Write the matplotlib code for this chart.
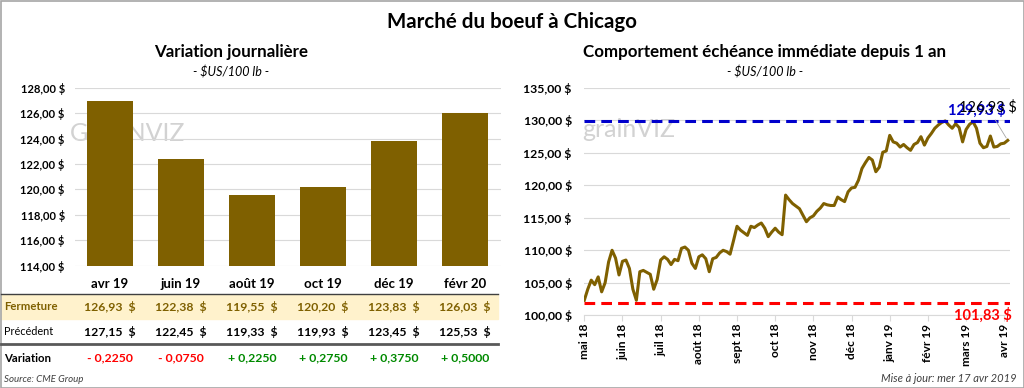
# -*- coding: utf-8 -*-
"""
Marché du boeuf à Chicago: variation journalière + échéance immédiate sur 1 an.
"""
import matplotlib
matplotlib.use('Agg')
import matplotlib.pyplot as plt
import matplotlib.transforms as mtransforms
from matplotlib.patches import Rectangle
from matplotlib.lines import Line2D

plt.rcParams['font.family'] = ['Lato', 'DejaVu Sans']

# left panel: contracts
contracts = ['avr 19', 'juin 19', 'août 19', 'oct 19', 'déc 19', 'févr 20']
fermeture = [126.93, 122.38, 119.55, 120.20, 123.83, 126.03]
precedent = [127.15, 122.45, 119.33, 119.93, 123.45, 125.53]
variation = [-0.2250, -0.0750, 0.2250, 0.2750, 0.3750, 0.5000]

# right panel: front month, one value every 2 trading days
nearby = [
    102.3, 104.0, 105.4, 104.7, 105.9, 103.6, 105.0, 108.2, 110.0, 108.8,
    106.2, 108.3, 108.5, 107.2, 104.0, 102.3, 106.7, 106.9, 106.6, 106.3,
    104.0, 105.5, 108.5, 109.0, 108.6, 107.8, 108.6, 108.4, 110.3, 110.5,
    110.0, 108.0, 107.2, 109.0, 109.3, 108.7, 106.7, 108.7, 108.9, 109.6,
    110.0, 109.8, 109.4, 111.5, 113.7, 113.1, 112.7, 112.3, 113.7, 113.5,
    113.9, 114.2, 113.4, 112.1, 112.8, 113.4, 112.8, 112.4, 118.5, 117.8,
    117.2, 116.8, 116.4, 115.4, 114.4, 115.0, 115.3, 116.0, 116.5, 117.2,
    117.0, 116.9, 116.9, 118.2, 117.8, 117.5, 119.0, 119.6, 119.7, 120.8,
    122.6, 123.5, 124.3, 123.9, 122.1, 122.8, 125.1, 125.3, 127.7, 126.7,
    126.5, 125.9, 126.3, 125.8, 125.4, 126.3, 126.6, 127.5, 126.2, 127.3,
    128.0, 128.8, 129.3, 129.7, 129.93, 129.3, 128.8, 129.5, 128.9, 126.7,
    128.6, 129.4, 129.8, 128.8, 126.5, 125.8, 126.0, 127.6, 125.9, 126.0,
    126.4, 126.5, 126.93,
]
month_labels = ['mai 18', 'juin 18', 'juil 18', 'août 18', 'sept 18', 'oct 18',
                'nov 18', 'déc 18', 'janv 19', 'févr 19', 'mars 19', 'avr 19']
label_step = 11
haut = 129.93
bas = 101.83

W, H = 1024, 388
GOLD = '#7F6000'
GRID = '#D9D9D9'
WMARK = '#D2D2D2'


def fx(px):
    return px / W


def fy(px):
    return 1 - px / H


def money(v):
    return f'{v:.2f}'.replace('.', ',') + ' $'


def money_table(v):
    return f'{v:.2f}'.replace('.', ',') + '  $'


def signed(v):
    s = '- ' if v < 0 else '+ '
    return s + f'{abs(v):.4f}'.replace('.', ',')


fig = plt.figure(figsize=(W / 100, H / 100), dpi=100)
fig.patch.set_facecolor('white')

fig.text(0.5, fy(22), 'Marché du boeuf à Chicago', ha='center', va='center',
         fontsize=14.8, fontweight='bold')

# ---------------- left panel
ax1 = fig.add_axes([fx(74.5), fy(265.7), fx(426), 178 / H])
x = list(range(len(contracts)))
ax1.bar(x, fermeture, width=0.66, color=GOLD, zorder=3)
ax1.set_ylim(114, 128)
ax1.set_xlim(-0.5, len(contracts) - 0.5)
ax1.set_yticks(range(114, 129, 2))
ax1.set_yticklabels([money(v) for v in range(114, 129, 2)],
                    fontsize=8, fontweight='bold')
ax1.set_xticks(x)
ax1.set_xticklabels(contracts, fontsize=9.5, fontweight='bold')
ax1.tick_params(axis='y', length=0, pad=7)
ax1.tick_params(axis='x', length=0, pad=9)
ax1.grid(axis='y', color=GRID, lw=0.8, zorder=0)
for s in ax1.spines.values():
    s.set_visible(False)
ax1.text(-0.01, 0.70, 'GRAINVIZ', transform=ax1.transAxes, fontsize=18,
         color=WMARK, zorder=1)

fig.text(fx(231), fy(52), 'Variation journalière', ha='center', va='center',
         fontsize=12.2, fontweight='bold')
fig.text(fx(231), fy(72), '- $US/100 lb -', ha='center', va='center',
         fontsize=9, style='italic')

# table under the bars
tr = mtransforms.blended_transform_factory(ax1.transData, fig.transFigure)
fig.patches.append(Rectangle((fx(1), fy(319)), fx(497), 24 / H,
                             transform=fig.transFigure, color='#FFF2CC', zorder=0))
fig.add_artist(Line2D([fx(1), fx(498)], [fy(294), fy(294)], color='#404040', lw=1))
fig.add_artist(Line2D([fx(1), fx(498)], [fy(344), fy(344)], color='#595959', lw=2))
fig.text(fx(4), fy(307), 'Fermeture', va='center', fontsize=8.2,
         fontweight='bold', color=GOLD)
fig.text(fx(4), fy(331.5), 'Précédent', va='center', fontsize=7.8)
fig.text(fx(4), fy(358), 'Variation', va='center', fontsize=8.2, fontweight='bold')
for i in x:
    fig.text(i, fy(307), money_table(fermeture[i]), transform=tr, ha='center',
             va='center', fontsize=8.8, fontweight='bold', color=GOLD)
    fig.text(i, fy(331.5), money_table(precedent[i]), transform=tr, ha='center',
             va='center', fontsize=8.8, fontweight='bold')
    fig.text(i, fy(358), signed(variation[i]), transform=tr, ha='center',
             va='center', fontsize=8.8, fontweight='bold',
             color='#FF0000' if variation[i] < 0 else '#008A00')
fig.text(fx(4), fy(379), 'Source: CME Group', va='center', fontsize=7,
         style='italic', color='#404040')

# ---------------- right panel
n = len(nearby)
ax2 = fig.add_axes([fx(584.3), fy(315.2), fx(425.5), 227.2 / H])
idx = list(range(n))
ax2.plot(idx, nearby, color=GOLD, lw=2.2, zorder=3)
ax2.axhline(haut, color='#0000CC', lw=2.2, ls=(0, (3.5, 2)), zorder=4)
ax2.axhline(bas, color='#FF0000', lw=2.2, ls=(0, (3.5, 2)), zorder=4)
ax2.set_ylim(100, 135)
ax2.set_xlim(0, n - 1 + 0.6)
ax2.set_yticks(range(100, 136, 5))
ax2.set_yticklabels([money(v) for v in range(100, 136, 5)],
                    fontsize=8.8, fontweight='bold')
ax2.set_xticks(range(0, n, label_step))
ax2.set_xticklabels(month_labels, rotation=90, fontsize=8.6, fontweight='bold')
ax2.tick_params(axis='y', length=0, pad=9)
ax2.tick_params(axis='x', length=4, color=GRID, pad=2)
ax2.grid(axis='y', color=GRID, lw=0.8, zorder=0)
for k in ['top', 'right', 'left']:
    ax2.spines[k].set_visible(False)
ax2.spines['bottom'].set_color(GRID)
ax2.text(-0.005, 0.785, 'grainVIZ', transform=ax2.transAxes, fontsize=18,
         color=WMARK, zorder=1)

ax2.text(0.99, haut + 1.6, money(haut), transform=ax2.get_yaxis_transform(),
         ha='right', va='center', fontsize=10.5, fontweight='bold', color='#0000CC',
         zorder=5)
ax2.annotate(money(nearby[-1]), xy=(n - 1, nearby[-1]), xytext=(n + 1.5, haut + 2.1),
             ha='right', va='center', fontsize=10.5, color='black', zorder=6,
             arrowprops=dict(arrowstyle='-', color='#A6A6A6', lw=0.6))
ax2.text(1.005, 100.0, money(bas), transform=ax2.get_yaxis_transform(),
         ha='right', va='center', fontsize=10.5, fontweight='bold', color='#FF0000',
         zorder=5)

fig.text(fx(765), fy(52), 'Comportement échéance immédiate depuis 1 an',
         ha='center', va='center', fontsize=12.2, fontweight='bold')
fig.text(fx(765), fy(72), '- $US/100 lb -', ha='center', va='center',
         fontsize=9, style='italic')
fig.text(fx(1017), fy(378), 'Mise à jour: mer 17 avr 2019', ha='right',
         va='center', fontsize=8, style='italic', color='#404040')

# outer frame
fig.patches.append(Rectangle((fx(0.5), fy(387.5)), fx(1023), 387 / H,
                             transform=fig.transFigure, fill=False,
                             ec='#A6A6A6', lw=1.2))

fig.savefig('out.png', dpi=100)
